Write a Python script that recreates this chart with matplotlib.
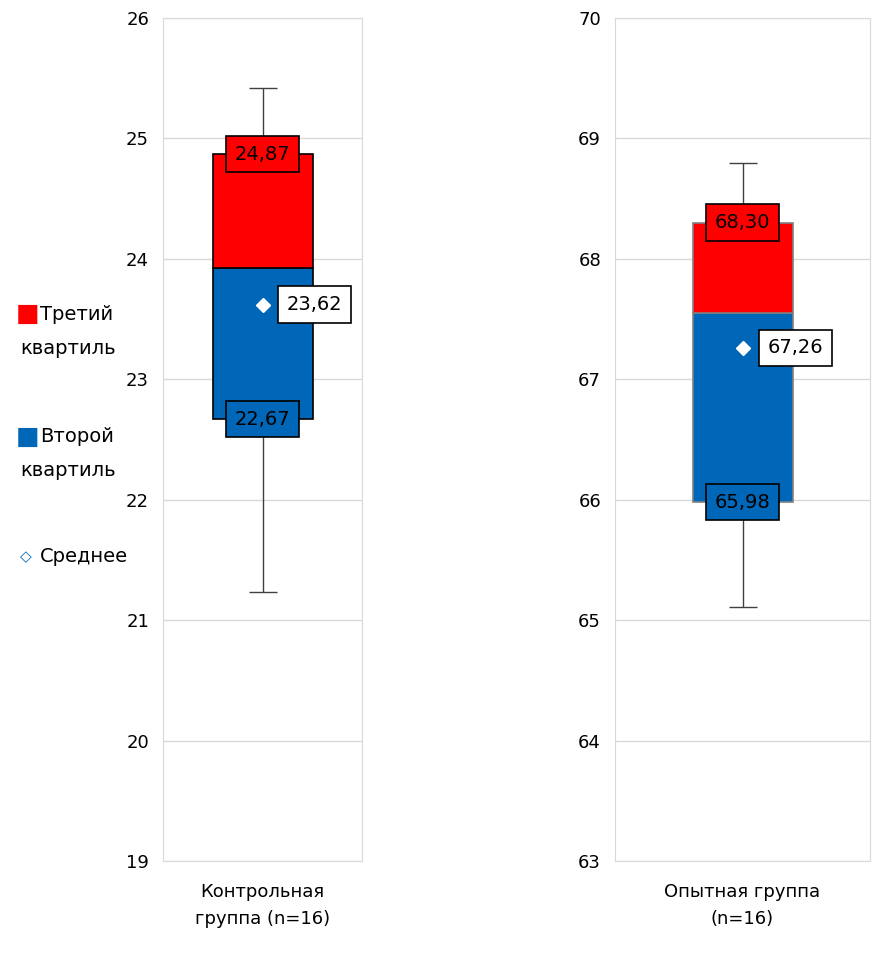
import matplotlib.pyplot as plt

groups = ['Контрольная\nгруппа (n=16)', 'Опытная группа\n(n=16)']
q1 = [22.67, 65.98]
med = [23.92, 67.55]
q3 = [24.87, 68.30]
wlo = [21.23, 65.11]
whi = [25.42, 68.80]
mean = [23.62, 67.26]
ylims = [(19, 26), (63, 70)]
edges = ['black', 'gray']

W, H = 872, 956
fig = plt.figure(figsize=(W / 100, H / 100), dpi=100)
rects = [(163, 362), (615, 870)]
top, bot = 18, 861
red, blue = '#ff0000', '#0066b8'

for i, (x0, x1) in enumerate(rects):
    ax = fig.add_axes([x0 / W, 1 - bot / H, (x1 - x0) / W, (bot - top) / H])
    lo, hi = ylims[i]
    ax.set_ylim(lo, hi)
    ax.set_xlim(-0.5, 0.5)
    ax.set_yticks(range(lo, hi + 1))
    ax.yaxis.grid(True, color='#d9d9d9', lw=1)
    ax.set_axisbelow(True)
    for s in ax.spines.values():
        s.set_color('#d9d9d9')
    ax.tick_params(axis='y', length=0, labelsize=13, pad=10)
    ax.set_xticks([0])
    ax.set_xticklabels([groups[i]], fontsize=13, linespacing=1.6)
    ax.tick_params(axis='x', length=0, pad=16)
    bw = 100 / (x1 - x0)
    ax.vlines(0, wlo[i], whi[i], color='#404040', lw=1, zorder=1)
    ax.hlines([wlo[i], whi[i]], -0.07 * 200 / (x1 - x0), 0.07 * 200 / (x1 - x0),
              color='#404040', lw=1, zorder=1)
    ax.bar(0, med[i] - q1[i], bottom=q1[i], width=bw, color=blue,
           edgecolor=edges[i], lw=1.2, zorder=2)
    ax.bar(0, q3[i] - med[i], bottom=med[i], width=bw, color=red,
           edgecolor=edges[i], lw=1.2, zorder=2)
    ax.plot(0, mean[i], marker='D', color='white', ms=7, zorder=3)
    fmt = lambda v: f'{v:.2f}'.replace('.', ',')
    ax.text(0, q3[i], fmt(q3[i]), ha='center', va='center', fontsize=14, zorder=4,
            bbox=dict(boxstyle='square,pad=0.45', fc=red, ec='black', lw=1.2))
    ax.text(0, q1[i], fmt(q1[i]), ha='center', va='center', fontsize=14, zorder=4,
            bbox=dict(boxstyle='square,pad=0.45', fc=blue, ec='black', lw=1.2))
    ax.text(0.1 * 200 / (x1 - x0) + 0.02, mean[i], fmt(mean[i]), ha='left', va='center',
            fontsize=14, zorder=4,
            bbox=dict(boxstyle='square,pad=0.45', fc='white', ec='black', lw=1.2))

# legend drawn by hand on the figure
fig.text(16 / W, 1 - 314 / H, '■', color=red, fontsize=18, va='center')
fig.text(40 / W, 1 - 314 / H, 'Третий', fontsize=14, va='center')
fig.text(20 / W, 1 - 349 / H, 'квартиль', fontsize=14, va='center')
fig.text(16 / W, 1 - 437 / H, '■', color=blue, fontsize=18, va='center')
fig.text(40 / W, 1 - 437 / H, 'Второй', fontsize=14, va='center')
fig.text(20 / W, 1 - 470 / H, 'квартиль', fontsize=14, va='center')
fig.text(20 / W, 1 - 557 / H, '◇', color=blue, fontsize=11, va='center',
         fontweight='bold')
fig.text(40 / W, 1 - 557 / H, 'Среднее', fontsize=14, va='center')

fig.savefig('out.png', dpi=100)
